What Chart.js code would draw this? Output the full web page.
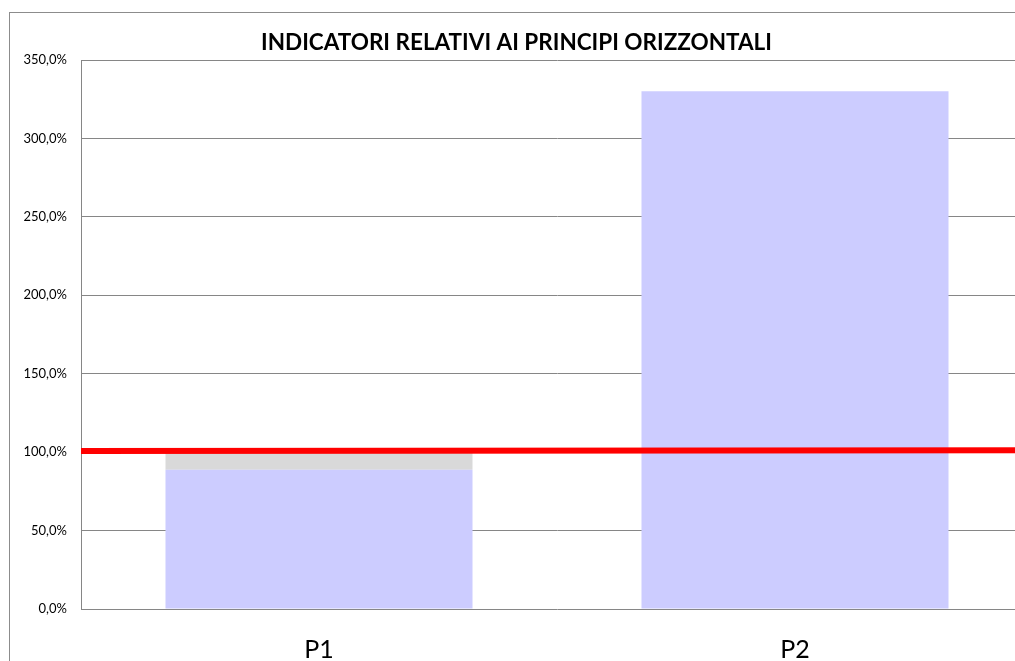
<!DOCTYPE html>
<html>
<head>
<meta charset="utf-8">
<script src="https://cdn.jsdelivr.net/npm/chart.js@4/dist/chart.umd.min.js"></script>
<style>
  html, body { margin: 0; padding: 0; background: #fff; overflow: hidden; width: 1015px; height: 661px; }
  #frame { position: absolute; left: 9px; top: 12px; width: 1100px; height: 700px; border-left: 1px solid #8c8c8c; border-top: 1px solid #8c8c8c; }
  #wrap { position: absolute; left: 0; top: 0; width: 1034px; height: 661px; }
</style>
</head>
<body>
<div id="frame"></div>
<div id="wrap"><canvas id="c"></canvas></div>
<script>
const categories = ['P1', 'P2'];
const achievedValues = [88.8, 330.0];
const gapValues = [11.0, 0];
const thresholdX = [0, 1];
const thresholdY = [100.7, 101.2];
const yTicks = [0, 50, 100, 150, 200, 250, 300, 350];
const titleText = 'INDICATORI RELATIVI AI PRINCIPI ORIZZONTALI';

const thresholdPoints = thresholdX.map((x, i) => ({ x: x, y: thresholdY[i] }));

new Chart(document.getElementById('c'), {
  type: 'bar',
  data: {
    labels: categories,
    datasets: [
      {
        label: 'Valore',
        data: achievedValues,
        backgroundColor: '#CCCCFF',
        borderWidth: 0,
        stack: 'bars',
        grouped: false,
        categoryPercentage: 1.0,
        barPercentage: 0.645,
        order: 2
      },
      {
        label: 'Scarto',
        data: gapValues,
        backgroundColor: '#D9D9D9',
        borderWidth: 0,
        stack: 'bars',
        grouped: false,
        categoryPercentage: 1.0,
        barPercentage: 0.645,
        order: 2
      },
      {
        type: 'line',
        label: 'Soglia',
        data: thresholdPoints,
        xAxisID: 'x2',
        stack: 'line',
        borderColor: '#FF0000',
        borderWidth: 6,
        pointRadius: 0,
        fill: false,
        clip: { left: 0, right: 0, top: 6, bottom: 6 },
        order: 1
      }
    ]
  },
  options: {
    responsive: true,
    maintainAspectRatio: false,
    animation: false,
    layout: { padding: { left: 0, right: 1, top: 0, bottom: 0 } },
    plugins: {
      legend: { display: false },
      tooltip: { enabled: false },
      title: {
        display: true,
        text: titleText,
        color: '#000',
        font: { family: 'Lato', size: 22.5, weight: 'bold' },
        padding: { top: 29.5, bottom: 3.5 }
      }
    },
    scales: {
      x: {
        stacked: true,
        grid: { display: false, drawTicks: false },
        border: { display: false },
        ticks: { color: '#000', font: { family: 'Lato', size: 25 }, padding: 26 },
        afterFit: (s) => { s.height = 52; }
      },
      x2: {
        type: 'linear',
        display: false,
        offset: false,
        min: 0,
        max: 1
      },
      y: {
        stacked: true,
        min: 0,
        max: 350,
        afterBuildTicks: (s) => { s.ticks = yTicks.map(v => ({ value: v })); },
        grid: { color: '#868686', lineWidth: 1, drawTicks: false },
        border: { display: true, color: '#868686', width: 1 },
        ticks: {
          color: '#000',
          font: { family: 'Lato', size: 13 },
          padding: 14,
          callback: (v) => v.toFixed(1).replace('.', ',') + '%'
        },
        afterFit: (s) => { s.width = 81; }
      }
    }
  }
});
</script>
</body>
</html>
